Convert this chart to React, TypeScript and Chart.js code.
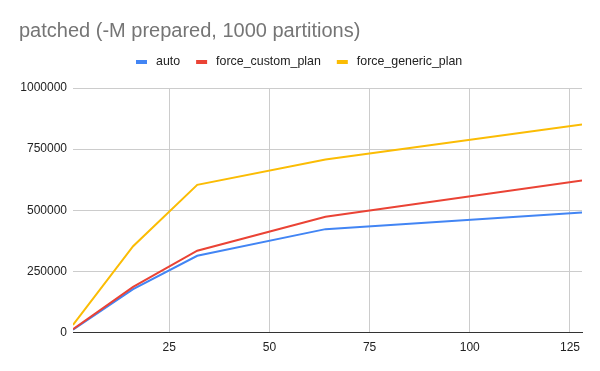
import React, { useEffect, useRef } from "react";
import { Chart, registerables } from "chart.js";

Chart.register(...registerables);

const clients = [1, 16, 32, 64, 128];
const autoValues = [12000, 178000, 314000, 423000, 491000];
const customValues = [14000, 187000, 335000, 474000, 622000];
const genericValues = [31000, 353000, 604000, 708000, 851000];
const xTicks = [25, 50, 75, 100, 125];
const yTicks = [0, 250000, 500000, 750000, 1000000];
const seriesNames = ["auto", "force_custom_plan", "force_generic_plan"];
const seriesColors = ["#4285F4", "#EA4335", "#FBBC04"];
const titleText = "patched (-M prepared, 1000 partitions)";

const FONT = "'Liberation Sans', Arial, sans-serif";

const legendPlugin = {
  id: "sheetLegend",
  afterDraw(chart: any, _args: any, opts: any) {
    const ctx = chart.ctx;
    ctx.save();
    ctx.font = `${opts.fontSize}px ${FONT}`;
    ctx.textBaseline = "middle";
    ctx.textAlign = "left";
    let x = opts.startX;
    const y = opts.centerY;
    chart.data.datasets.forEach((ds: any) => {
      ctx.fillStyle = ds.borderColor;
      ctx.fillRect(x, y - opts.boxH / 2, opts.boxW, opts.boxH);
      x += opts.boxW + opts.gap;
      ctx.fillStyle = opts.color;
      ctx.fillText(ds.label, x, y);
      x += ctx.measureText(ds.label).width + opts.itemGap;
    });
    ctx.restore();
  },
};

export default function App() {
  const ref = useRef<HTMLCanvasElement | null>(null);

  useEffect(() => {
    document.body.style.margin = "0";
    const canvas = ref.current;
    if (!canvas) return;
    const values = [autoValues, customValues, genericValues];
    const chart = new Chart(canvas, {
      type: "line",
      data: {
        datasets: seriesNames.map((name, i) => ({
          label: name,
          data: clients.map((c, j) => ({ x: c, y: values[i][j] })),
          borderColor: seriesColors[i],
          backgroundColor: seriesColors[i],
          borderWidth: 2,
          pointRadius: 0,
          tension: 0,
          order: 3 - i,
        })),
      },
      plugins: [legendPlugin],
      options: {
        responsive: false,
        animation: false,
        layout: { padding: { left: 19, right: 18, top: 0, bottom: 8 } },
        plugins: {
          tooltip: { enabled: false },
          legend: { display: false },
          title: {
            display: true,
            text: titleText,
            align: "start",
            color: "#757575",
            font: { family: FONT, size: 20, weight: "normal" },
            padding: { top: 19, bottom: 45 },
          },
          sheetLegend: {
            startX: 136,
            centerY: 62,
            boxW: 11,
            boxH: 4,
            gap: 9,
            itemGap: 16,
            fontSize: 12.4,
            color: "#222222",
          },
        } as any,
        scales: {
          x: {
            type: "linear",
            min: 1,
            max: 128,
            afterBuildTicks: (scale: any) => {
              scale.ticks = xTicks.map((v) => ({ value: v }));
            },
            grid: { color: "#cccccc", drawTicks: false },
            border: { display: true, color: "#333333", width: 1 },
            ticks: {
              color: "#222222",
              font: { family: FONT, size: 12 },
              padding: 8,
              maxRotation: 0,
            },
          },
          y: {
            type: "linear",
            min: 0,
            max: 1000000,
            afterBuildTicks: (scale: any) => {
              scale.ticks = yTicks.map((v) => ({ value: v }));
            },
            afterFit: (scale: any) => {
              scale.width = 54;
            },
            grid: { color: "#cccccc", drawTicks: false },
            border: { display: false },
            ticks: {
              color: "#222222",
              font: { family: FONT, size: 12 },
              padding: 6,
              callback: (v: any) => String(v),
            },
          },
        },
      },
    });
    return () => chart.destroy();
  }, []);

  return (
    <div style={{ position: "absolute", left: 0, top: 0, width: 600, height: 371, background: "#fff" }}>
      <canvas ref={ref} width={600} height={371} />
    </div>
  );
}
